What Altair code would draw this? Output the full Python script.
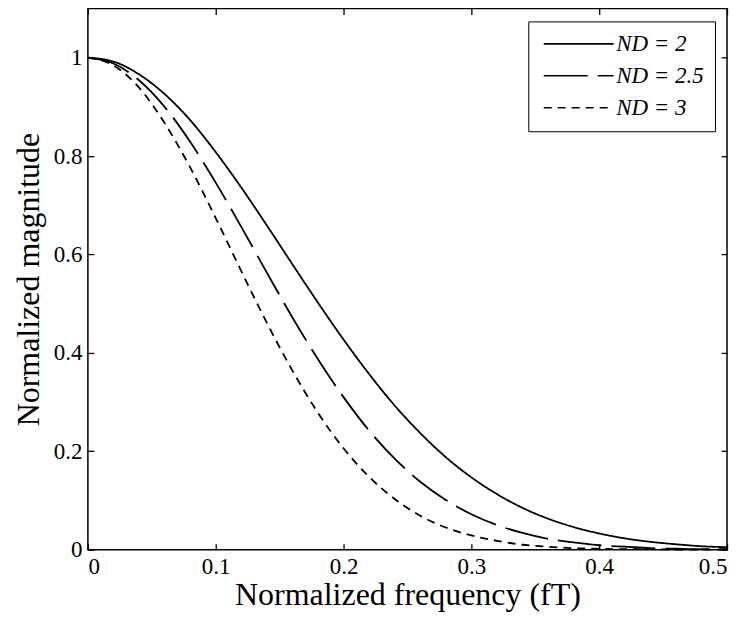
import altair as alt
import pandas as pd

# Normalized frequency (fT) sample points
freq = [0.00, 0.02, 0.04, 0.06, 0.08, 0.10, 0.12, 0.14, 0.16, 0.18, 0.20,
        0.22, 0.24, 0.26, 0.28, 0.30, 0.32, 0.34, 0.36, 0.38, 0.40,
        0.42, 0.44, 0.46, 0.48, 0.50]

# Normalized magnitude for each curve
mag_nd2 = [1.000, 0.992, 0.966, 0.926, 0.873, 0.808, 0.736, 0.659, 0.580, 0.502, 0.427,
           0.357, 0.293, 0.237, 0.188, 0.147, 0.113, 0.085, 0.063, 0.046, 0.033,
           0.023, 0.016, 0.011, 0.007, 0.005]
mag_nd25 = [1.000, 0.988, 0.954, 0.900, 0.829, 0.746, 0.656, 0.563, 0.472, 0.387, 0.310,
            0.242, 0.185, 0.138, 0.101, 0.072, 0.050, 0.034, 0.022, 0.015, 0.009,
            0.006, 0.003, 0.002, 0.001, 0.001]
mag_nd3 = [1.000, 0.984, 0.939, 0.867, 0.777, 0.674, 0.566, 0.461, 0.364, 0.278, 0.206,
           0.148, 0.103, 0.069, 0.045, 0.029, 0.018, 0.010, 0.006, 0.003, 0.002,
           0.001, 0.001, 0.000, 0.000, 0.000]

series_labels = ["ND = 2", "ND = 2.5", "ND = 3"]
x_ticks = [0, 0.1, 0.2, 0.3, 0.4, 0.5]
y_ticks = [0, 0.2, 0.4, 0.6, 0.8, 1.0]

rows = []
for label, vals in zip(series_labels, [mag_nd2, mag_nd25, mag_nd3]):
    for f, m in zip(freq, vals):
        rows.append({"f": f, "mag": m, "series": label})
df = pd.DataFrame(rows)

FONT = "Liberation Serif"
xscale = alt.Scale(domain=[0, 0.5], nice=False)
yscale = alt.Scale(domain=[0, 1.1], nice=False)

common = dict(domain=False, tickSize=6, offset=-6, tickColor="black", tickWidth=1.3,
              grid=False, labelFont=FONT, labelFontSize=23, labelColor="black",
              titleFont=FONT, titleFontSize=32, titleColor="black",
              titleFontWeight="normal")

lines = alt.Chart(df).mark_line(color="black", strokeWidth=1.8, interpolate="monotone").encode(
    x=alt.X("f:Q", scale=xscale,
            axis=alt.Axis(orient="bottom", values=x_ticks, format="~g",
                          title="Normalized frequency (fT)", labelPadding=6,
                          titlePadding=1, **common)),
    y=alt.Y("mag:Q", scale=yscale,
            axis=alt.Axis(orient="left", values=y_ticks, format="~g",
                          title="Normalized magnitude", labelPadding=6,
                          titlePadding=8, **common)),
    strokeDash=alt.StrokeDash(
        "series:N",
        scale=alt.Scale(domain=series_labels, range=[[1, 0], [44, 10], [8, 6]]),
        legend=alt.Legend(title=None, orient="none", legendX=441, legendY=13,
                          symbolType="M-1,0H9", symbolSize=196, symbolOffset=0,
                          symbolStrokeWidth=1.6, symbolStrokeColor="black",
                          labelFont=FONT, labelFontSize=23, labelFontStyle="italic",
                          labelColor="black", labelOffset=54, labelLimit=300,
                          rowPadding=8, padding=11, strokeColor="black",
                          fillColor="white"),
    ),
)

mirror = alt.Chart(df).mark_line(opacity=0).encode(
    x=alt.X("f:Q", scale=xscale,
            axis=alt.Axis(orient="top", values=x_ticks, labels=False, title=None, **common)),
    y=alt.Y("mag:Q", scale=yscale,
            axis=alt.Axis(orient="right", values=y_ticks, labels=False, title=None, **common)),
    detail="series:N",
)

chart = (
    alt.layer(lines, mirror)
    .resolve_axis(x="independent", y="independent")
    .properties(width=640, height=542,
                autosize=alt.AutoSizeParams(type="none"),
                padding={"left": 80, "top": 0, "right": 10, "bottom": 69},
                background="white")
    .configure_view(stroke="black", strokeWidth=1.5)
)

chart.save("out.html", embed_options={"renderer": "svg", "actions": False})
